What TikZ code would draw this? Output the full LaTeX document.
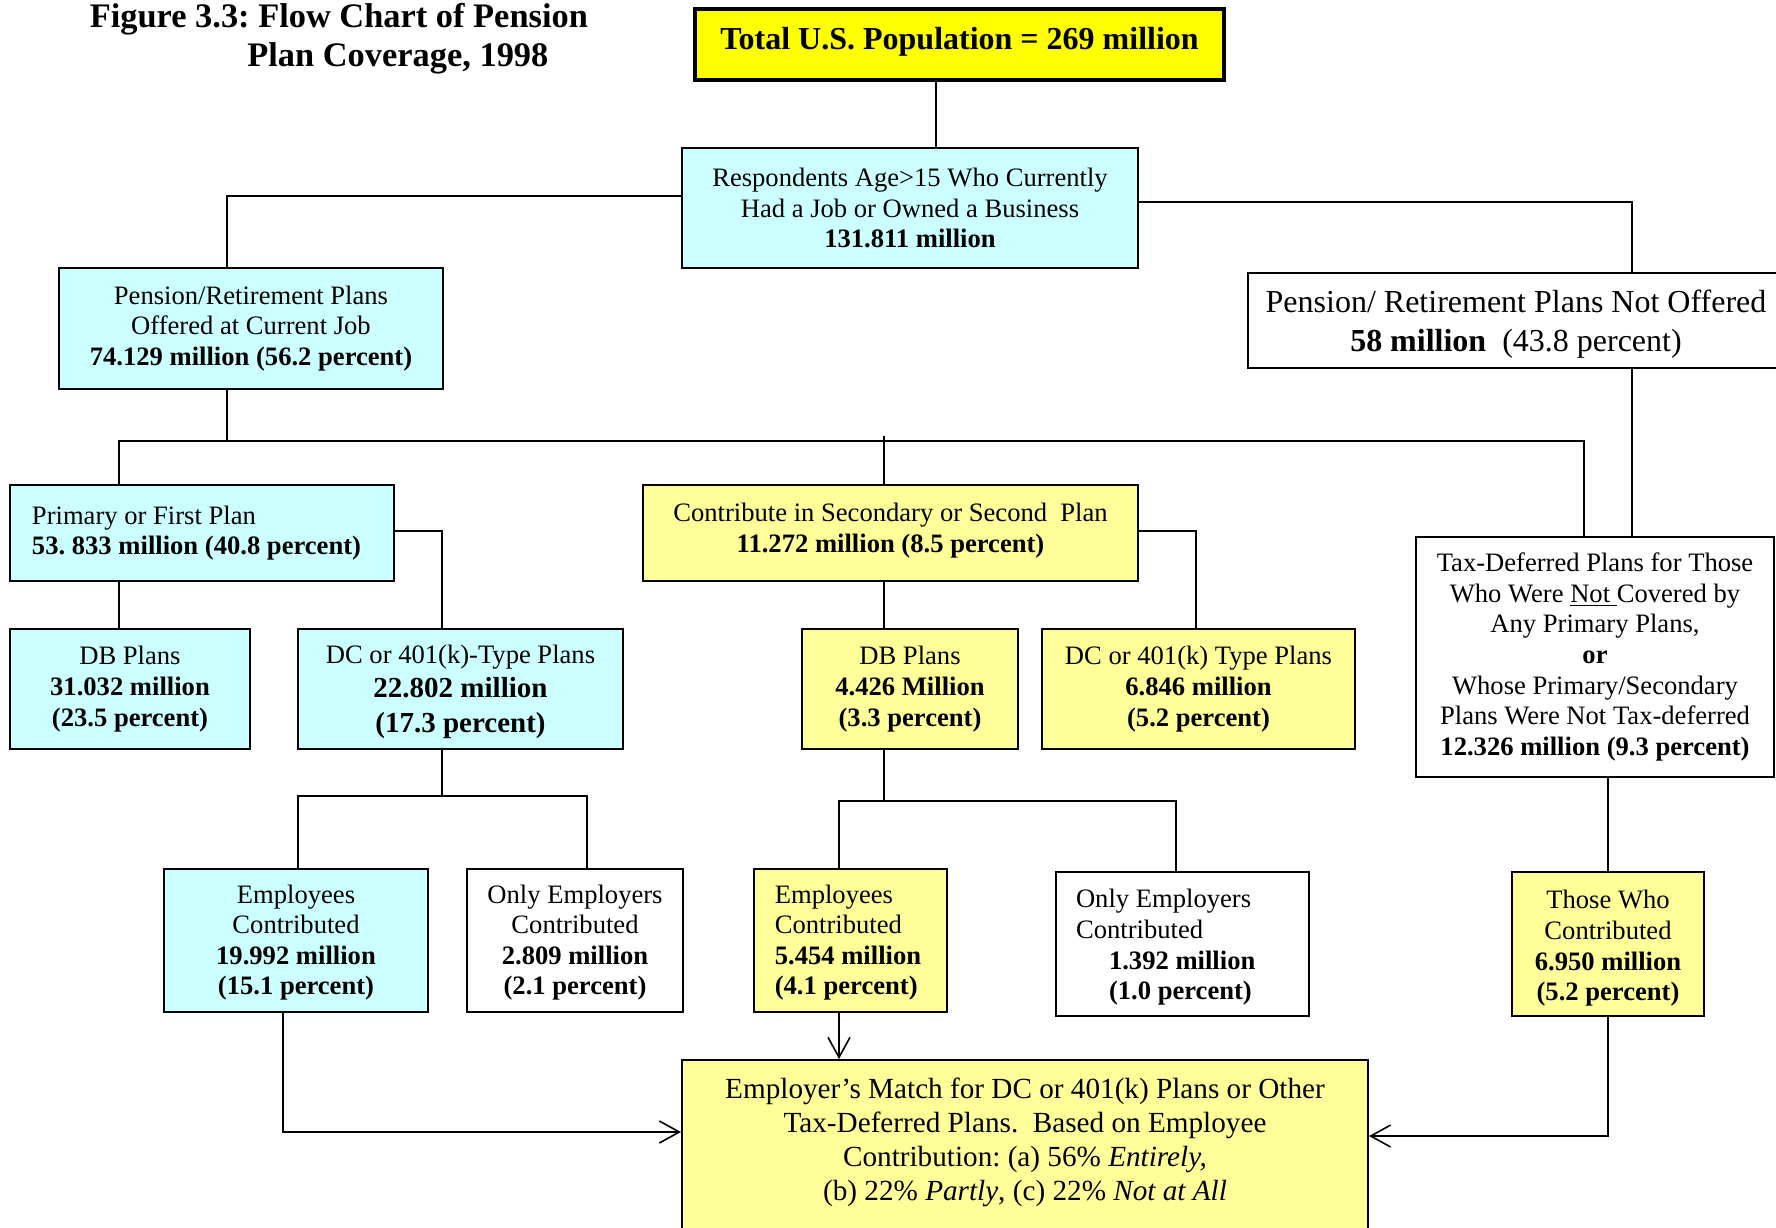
\documentclass[tikz,border=0pt]{standalone}
\usepackage{fontspec}
\setmainfont{Liberation Serif}
\usetikzlibrary{arrows.meta}
\definecolor{cyanfill}{HTML}{CCFFFF}
\definecolor{lyellow}{HTML}{FFFF99}
\definecolor{byellow}{HTML}{FFFF00}
\newcommand\topstrut[1]{\rule{0pt}{#1}}
\tikzset{
  box/.style={draw, line width=1pt, inner sep=0pt, align=center, font=\fontsize{13.3}{15.3}\selectfont},
  cbox/.style={box, fill=cyanfill},
  ybox/.style={box, fill=lyellow},
  wbox/.style={box, fill=white},
  conn/.style={line width=0.8pt},
  arr/.style={conn, -{Straight Barb[length=10pt,width=11pt]}},
  ttl/.style={anchor=base west, inner sep=0pt, font=\fontsize{17.2}{19.8}\selectfont\bfseries}
}
\begin{document}
\frenchspacing
\begin{tikzpicture}[x=1pt,y=1pt]
\useasboundingbox (0,0) rectangle (888,-613.5);

% title
\node[ttl] (title1) at (44.7,-13.6) {Figure 3.3: Flow Chart of Pension};
\node[ttl] (title2) at (123.5,-33.4) {Plan Coverage, 1998};

% nodes
\node[box, fill=byellow, line width=1.6pt, minimum width=264.5pt, minimum height=35.5pt, text depth=6pt,
      font=\fontsize{16}{19}\selectfont\bfseries] (total) at (479.75,-22.25)
      {Total U.S. Population = 269 million};
\node[cbox, minimum width=228pt, minimum height=60pt] (resp) at (455,-104)
      {Respondents Age>15 Who Currently\\Had a Job or Owned a Business\\\textbf{131.811 million}};
\node[cbox, minimum width=192pt, minimum height=60.5pt] (offered) at (125.5,-164.25)
      {Pension/Retirement Plans\\Offered at Current Job\\\textbf{74.129 million (56.2 percent)}};
\node[wbox, minimum width=268pt, minimum height=47.5pt, font=\fontsize{16}{19.5}\selectfont] (notoffered) at (758,-160.25)
      {\topstrut{14.8pt}Pension/ Retirement Plans Not Offered\\\textbf{58 million}\ \ (43.8 percent)};
\node[cbox, align=flush left, text width=170pt, inner xsep=11pt, minimum height=48pt] (primary) at (101,-266.5)
      {\mbox{Primary or First Plan}\\\mbox{\textbf{53. 833 million (40.8 percent)}}};
\node[ybox, minimum width=247.5pt, minimum height=48pt, text depth=5pt] (contribute) at (445.25,-266.5)
      {Contribute in Secondary or Second\ \ Plan\\\textbf{11.272 million (8.5 percent)}};
\node[wbox, line width=1.2pt, minimum width=179pt, minimum height=120pt] (tax) at (797.5,-328.5)
      {Tax-Deferred Plans for Those\\Who Were \underline{Not }Covered by\\Any Primary Plans,\\\textbf{or}\\Whose Primary/Secondary\\Plans Were Not Tax-deferred\\\textbf{12.326 million (9.3 percent)}};
\node[cbox, minimum width=120pt, minimum height=60pt] (dbc) at (65,-344.5)
      {DB Plans\\\textbf{31.032 million}\\\textbf{(23.5 percent)}};
\node[cbox, minimum width=162.5pt, minimum height=60pt] (dcc) at (230.25,-344.5)
      {\topstrut{12.1pt}DC or 401(k)-Type Plans\\[1.7pt]{\fontsize{14.5}{16.5}\selectfont\bfseries 22.802 million}\\[2.3pt]{\fontsize{14.5}{16.5}\selectfont\bfseries (17.3 percent)}};
\node[ybox, minimum width=108pt, minimum height=60pt] (dby) at (455,-344.5)
      {DB Plans\\\textbf{4.426 Million}\\\textbf{(3.3 percent)}};
\node[ybox, minimum width=156.5pt, minimum height=60pt] (dcy) at (599.25,-344.5)
      {DC or 401(k) Type Plans\\\textbf{6.846 million}\\\textbf{(5.2 percent)}};
\node[cbox, minimum width=132pt, minimum height=71.5pt] (empc) at (148,-470.25)
      {\topstrut{11.4pt}Employees\\Contributed\\\textbf{19.992 million}\\\textbf{(15.1 percent)}};
\node[wbox, minimum width=108pt, minimum height=71.5pt] (only1) at (287.5,-470.25)
      {\topstrut{11.4pt}Only Employers\\Contributed\\\textbf{2.809 million}\\\textbf{(2.1 percent)}};
\node[ybox, align=flush left, text width=75.7pt, inner xsep=10.4pt, minimum height=71.5pt] (empy) at (425.25,-470.25)
      {\topstrut{11.4pt}Employees\\Contributed\\\mbox{\textbf{5.454 million}}\\\mbox{\textbf{(4.1 percent)}}};
\node[wbox, align=flush left, text width=106.5pt, inner xsep=10pt, minimum height=72pt] (only2) at (591.25,-472)
      {\topstrut{12.6pt}Only Employers\\Contributed\\\hspace*{16.5pt}\textbf{1.392 million}\\\hspace*{16.5pt}\textbf{(1.0 percent)}};
\node[ybox, line width=1.3pt, minimum width=96pt, minimum height=72pt] (those) at (804,-472)
      {\topstrut{13.7pt}Those Who\\Contributed\\\textbf{6.950 million}\\\textbf{(5.2 percent)}};
\node[ybox, minimum width=343pt, minimum height=86pt] (match) at (512.5,-573) {};
\node[align=center, inner sep=0pt, font=\fontsize{14.6}{17}\selectfont] (matchtext) at (512.5,-571.2)
      {Employer’s Match for DC or 401(k) Plans or Other\\Tax-Deferred Plans.\ \ Based on Employee\\Contribution: (a) 56\% \textit{Entirely,}\\(b) 22\% \textit{Partly}, (c) 22\% \textit{Not at All}};

% coordinates for connector routing
\coordinate (xa) at (468,0);
\coordinate (c1) at (113.5,-98);
\coordinate (c2) at (816,-101);
\coordinate (bl) at (59.5,-220.5);
\coordinate (br) at (792,-220.5);
\coordinate (xc) at (442,-218);
\coordinate (c3) at (221,-265.5);
\coordinate (c4) at (598,-265.5);
\coordinate (c5) at (221,-398);
\coordinate (c5l) at (149,-398);
\coordinate (c5r) at (293.5,-398);
\coordinate (c6) at (442,-400.5);
\coordinate (c6l) at (419.5,-400.5);
\coordinate (c6r) at (588,-400.5);
\coordinate (c7) at (141.5,-566);
\coordinate (c8) at (0,-568);

% connectors
\draw[conn] (total.south -| xa) -- (resp.north -| xa);
\draw[conn] (resp.west |- c1) -| (offered.north -| c1);
\draw[conn, line width=1.2pt] (resp.east |- c2) -| (notoffered.north -| c2);
\draw[conn] (offered.south -| c1) -- (c1 |- bl);
\draw[conn] (primary.north -| bl) |- (br) -- (tax.north -| br);
\draw[conn] (xc) -- (contribute.north -| xc);
\draw[conn] (notoffered.south -| c2) -- (tax.north -| c2);
\draw[conn] (primary.south -| bl) -- (dbc.north -| bl);
\draw[conn] (primary.east |- c3) -| (dcc.north -| c3);
\draw[conn] (contribute.south -| xc) -- (dby.north -| xc);
\draw[conn] (contribute.east |- c4) -| (dcy.north -| c4);
\draw[conn] (dcc.south -| c5) -- (c5);
\draw[conn] (empc.north -| c5l) |- (c5r) -- (only1.north -| c5r);
\draw[conn] (dby.south -| c6) -- (c6);
\draw[conn] (empy.north -| c6l) |- (c6r) -- (only2.north -| c6r);
\draw[conn] (tax.south -| those.north) -- (those.north);
\draw[arr] (empy.south -| c6l) -- (match.north -| c6l);
\draw[arr] (empc.south -| c7) |- (match.west |- c7);
\draw[arr] (those.south) |- (match.east |- c8);
\end{tikzpicture}
\end{document}
